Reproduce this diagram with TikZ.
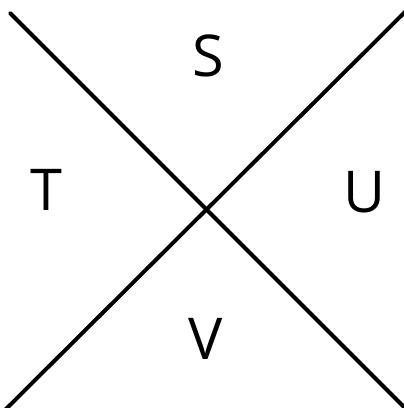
\documentclass[tikz,border=0pt]{standalone}
\usepackage{fontspec}
\setmainfont{Open Sans}
\usetikzlibrary{positioning}
\tikzset{
  divider/.style={line width=2.8pt, line cap=round, color=black},
  quadlabel/.style={font=\fontsize{41}{48}\selectfont, inner sep=0pt}
}
\begin{document}
\begin{tikzpicture}[x=0.25mm, y=-0.25mm]
  \useasboundingbox (0,0) rectangle (404,408);
  % end points of the two dividers
  \coordinate (tl) at (10,13);
  \coordinate (br) at (407,410);
  \coordinate (bl) at (5,410);
  \coordinate (tr) at (408,9);

  % ── Dividers ─────────────────────────────────────────────
  \draw[divider] (tl) -- (br);
  \draw[divider] (bl) -- (tr);

  % ── Quadrant labels ──────────────────────────────────────
  \node[quadlabel] (S) at (208,56) {S};
  \node[quadlabel] (T) at (46,190) {T};
  \node[quadlabel] (U) at (364,192) {U};
  \node[quadlabel] (V) at (206,339) {V};
\end{tikzpicture}
\end{document}
